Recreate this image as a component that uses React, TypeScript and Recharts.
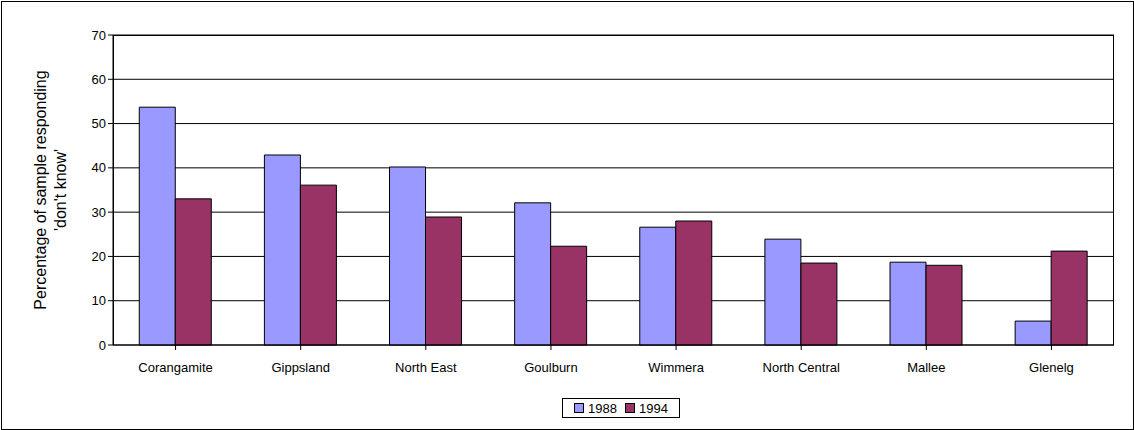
import React from 'react';
import { BarChart, Bar, XAxis, YAxis, CartesianGrid } from 'recharts';

const categories = ['Corangamite', 'Gippsland', 'North East', 'Goulburn', 'Wimmera', 'North Central', 'Mallee', 'Glenelg'];
const s1988 = [53.7, 42.9, 40.2, 32.1, 26.6, 23.9, 18.7, 5.4];
const s1994 = [33.0, 36.1, 28.9, 22.3, 28.0, 18.5, 18.0, 21.2];
const yTicks = [0, 10, 20, 30, 40, 50, 60, 70];

const data = categories.map((c, i) => ({ name: c, y1988: s1988[i], y1994: s1994[i] }));
const font = 'Arial, "Liberation Sans", sans-serif';

export default function App() {
  return (
    <div style={{ position: 'absolute', left: 0, top: 0, width: 1134, height: 430, background: '#fff', fontFamily: font }}>
      <div style={{ position: 'absolute', left: 1, top: 1, width: 1131, height: 427, border: '1px solid #000' }} />
      <BarChart width={1134} height={430} data={data} margin={{ top: 35, right: 20, bottom: 55, left: 83 }} barCategoryGap="21%" barGap={0}>
        <CartesianGrid vertical={false} stroke="#000" strokeWidth={1} />
        <XAxis dataKey="name" height={30} stroke="#000" tickLine={{ stroke: '#000' }} tick={{ fill: '#000', fontSize: 13, fontFamily: font }} tickSize={5} interval={0} tickMargin={13} />
        <YAxis domain={[0, 70]} ticks={yTicks} stroke="#000" tick={{ fill: '#000', fontSize: 13, fontFamily: font }} tickSize={5} width={30} interval={0} />
        <Bar dataKey="y1988" fill="#9999FF" stroke="#000" strokeWidth={1} isAnimationActive={false} />
        <Bar dataKey="y1994" fill="#993366" stroke="#000" strokeWidth={1} isAnimationActive={false} />
      </BarChart>
      <div style={{ position: 'absolute', left: 113, top: 35, width: 1001, height: 310, border: '1px solid #000', boxSizing: 'border-box', pointerEvents: 'none', borderBottom: 'none' }} />
      <svg style={{ position: 'absolute', left: 0, top: 0 }} width={80} height={430}>
        <text transform="translate(46,190) rotate(-90)" textAnchor="middle" fontSize={16} fontFamily={font} fill="#000">Percentage of sample responding</text>
        <text transform="translate(66,190) rotate(-90)" textAnchor="middle" fontSize={16} fontFamily={font} fill="#000">'don't know'</text>
      </svg>
      <div style={{ position: 'absolute', left: 562, top: 398, width: 118, height: 20, border: '1px solid #000', boxSizing: 'border-box', display: 'flex', alignItems: 'center', justifyContent: 'center', fontSize: 13, gap: 4 }}>
        <span style={{ width: 8, height: 8, background: '#9999FF', border: '1px solid #000' }} />
        <span>1988</span>
        <span style={{ width: 8, height: 8, background: '#993366', border: '1px solid #000', marginLeft: 4 }} />
        <span>1994</span>
      </div>
    </div>
  );
}
